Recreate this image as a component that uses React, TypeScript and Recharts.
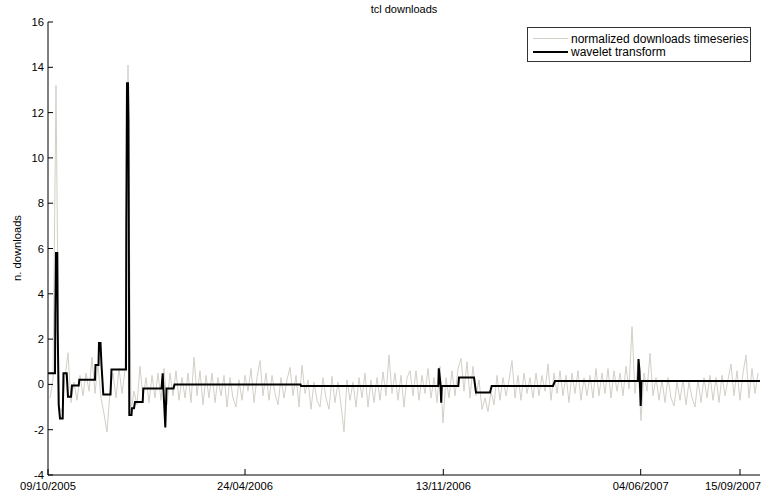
import React from 'react';
import { LineChart, Line, XAxis, YAxis } from 'recharts';

// x positions are in sample units (one unit per pixel-day of the original plot)
const xTickPositions = [0, 197, 395.3, 592.7, 692];
const xTickLabels = ['09/10/2005', '24/04/2006', '13/11/2006', '04/06/2007', '15/09/2007'];
const yTicks = [-4, -2, 0, 2, 4, 6, 8, 10, 12, 14, 16];

const seriesStart = 2;
const seriesStep = 3;
const normalizedValues = [
  -0.6, 0.2, 13.2, -1.0, -1.2, 0.3, 1.4, -0.8, 0.1, -0.7,
  0.4, -0.5, 0.5, -0.3, 1.2, -0.4, 0.9, -0.6, -1.3, -2.1,
  -0.3, 0.5, -0.6, 0.7, -0.4, 0.6, 14.1, -1.2, -0.3, -0.9,
  0.8, -0.6, 0.3, -0.8, 0.4, -0.6, 0.5, -0.7, 0.7, -0.9,
  0.5, -0.5, 0.6, -0.7, 0.3, -0.6, 0.5, -0.8, 1.2, -0.5,
  0.6, -0.9, 0.4, -0.6, 0.5, -0.8, 0.3, -0.5, 0.4, -1.0,
  0.3, -0.6, -1.0, 0.2, -0.7, 0.4, -0.3, 0.7, -0.8, 0.3,
  1.05, -0.5, 0.5, -0.7, 0.4, -0.4, -0.9, 0.3, -0.6, 0.2,
  0.75, -0.5, 0.4, -1.0, 0.85, -0.4, 0.2, -1.1, 0.1, -0.7,
  -1.0, 0.3, -0.6, -1.1, 0.35, -0.8, 0.1, -0.9, -2.1, 0.2,
  -0.7, 0.1, -1.0, 0.3, -0.6, 0.5, -1.0, 0.2, -0.8, 0.3,
  -0.7, 0.55, -0.5, 1.3, -0.4, 0.5, -0.7, 0.4, -1.0, 0.3,
  0.6,
  -0.5, 0.6, -0.7, 0.4, -0.4, 0.7, -0.6, 0.3, -0.8, 0.8,
  -1.7, 0.3, -0.6, 0.6, -0.5, 0.7, 1.15, -0.3, 1.0, -0.6,
  0.8, -0.5, 0.2, -1.1, -0.6, -1.2, -0.3, -0.9, 0.4, -0.7,
  0.3, -0.5, 0.2, 1.05, -0.6, 0.4, -0.7, 0.5, -0.4, 0.3,
  -0.6, 0.5, -0.5, 0.4, -0.3, 0.9, -0.7, 0.5, -0.4, 0.6,
  -0.5, 0.4, -0.8, 0.5, -0.4, 0.6, -0.7, 0.3, -0.5, 0.4,
  -0.6,
  0.7, -0.5, 0.5, -0.4, 0.7, -0.6, 0.6, -0.3, 0.5, -0.5,
  0.8, -0.2, 2.55, -0.4, 0.9, -1.6, 0.5, -0.3, 1.37, -0.5,
  0.3, -0.7, 0.2, -0.8, 0.3, -0.6, -0.95, 0.1, -0.7, 0.2,
  -0.9, 0.1, -0.6, -1.0, 0.2, -0.8, 0.3, -0.6, 0.4, -0.7,
  0.3, -0.8, 0.4, -0.5, 0.2, 0.9, -0.5, 0.6, -0.7, 0.5,
  1.3, -0.6, 0.7, -0.4, 0.5,
];

const waveletX = [
  0, 7, 7.3, 8, 9.3, 9.7, 10.7, 12, 14.7, 15.5,
  18.7, 20, 23, 24, 30.7, 31.3, 47, 47.5, 50.5, 51,
  52.5, 53.5, 55.3, 62.5, 63.5, 78, 78.3, 79, 80, 80.5,
  81.3, 83.5, 84, 86, 87, 94.7, 95.3, 113.5, 114.7, 117.3,
  118.5, 125.5, 126.5, 252.5, 253, 390.3, 390.8, 392.5, 393.2, 393.8,
  410.3, 411, 426, 428, 442, 443.7, 505, 507, 590, 590.5,
  591.5, 592.7, 593.5, 712,
];
const waveletY = [
  0.49, 0.49, 3.0, 5.8, 5.8, 2.4, -0.9, -1.5, -1.5, 0.49,
  0.49, -0.55, -0.55, -0.05, -0.05, 0.2, 0.2, 0.86, 0.86, 1.83,
  1.83, 0.86, -0.45, -0.45, 0.66, 0.66, 6.96, 13.3, 13.3, 11.67,
  -1.35, -1.35, -1.05, -1.05, -0.78, -0.78, -0.18, -0.18, 0.49, -1.9,
  -0.18, -0.18, 0, 0, -0.07, -0.07, 0.71, 0.0, -0.81, -0.07,
  -0.07, 0.31, 0.31, -0.36, -0.36, -0.07, -0.07, 0.15, 0.15, 1.12,
  0.6, -0.95, 0.15, 0.15,
];

const normalizedData = normalizedValues.map((v, i) => ({ x: seriesStart + i * seriesStep, y: v }));
const waveletData = waveletX.map((x, i) => ({ x, y: waveletY[i] }));

const FONT = '"Liberation Sans", Arial, Helvetica, sans-serif';
const CHART_W = 767;
const TICK_FONT = 11.2;

const XTick = (props: any) => {
  const { x, y, payload } = props;
  const idx = xTickPositions.indexOf(payload.value);
  const label = idx >= 0 ? xTickLabels[idx] : '';
  const approxW = label.length * TICK_FONT * 0.5;
  const overflow = x + approxW / 2 > CHART_W - 6;
  return (
    <g>
      <line x1={x} y1={y} x2={x} y2={y - 6} stroke="#000" strokeWidth={1} />
      <text
        x={overflow ? CHART_W - 6 : x}
        y={y + 15}
        textAnchor={overflow ? 'end' : 'middle'}
        fontFamily={FONT}
        fontSize={TICK_FONT}
        fill="#000"
      >
        {label}
      </text>
    </g>
  );
};

const YTick = (props: any) => {
  const { x, y, payload } = props;
  return (
    <g>
      <line x1={x} y1={y} x2={x + 5} y2={y} stroke="#000" strokeWidth={1} />
      <text x={x - 4} y={y + 4} textAnchor="end" fontFamily={FONT} fontSize={TICK_FONT} fill="#000">
        {payload.value}
      </text>
    </g>
  );
};

export default function App() {
  return (
    <div style={{ position: 'absolute', left: 0, top: 0, width: 767, height: 495, background: '#fff' }}>
      <LineChart width={767} height={495} margin={{ top: 22, right: 7, bottom: 0, left: 0 }}>
        <XAxis
          dataKey="x"
          type="number"
          domain={[0, 712]}
          ticks={xTickPositions}
          interval={0}
          height={20}
          tickSize={0}
          tickMargin={0}
          tickLine={false}
          axisLine={{ stroke: '#000', strokeWidth: 1 }}
          tick={XTick}
          allowDataOverflow
        />
        <YAxis
          type="number"
          domain={[-4, 16]}
          ticks={yTicks}
          interval={0}
          width={48}
          tickSize={0}
          tickMargin={0}
          tickLine={false}
          axisLine={{ stroke: '#000', strokeWidth: 1 }}
          tick={YTick}
          allowDataOverflow
        />
        <Line
          data={normalizedData}
          dataKey="y"
          type="linear"
          stroke="#d3cfc8"
          strokeWidth={1}
          dot={false}
          isAnimationActive={false}
        />
        <Line
          data={waveletData}
          dataKey="y"
          type="linear"
          stroke="#000"
          strokeWidth={2}
          dot={false}
          isAnimationActive={false}
        />
      </LineChart>
      <svg
        width={767}
        height={495}
        style={{ position: 'absolute', left: 0, top: 0, pointerEvents: 'none' }}
      >
        <text x={404} y={13} textAnchor="middle" fontFamily={FONT} fontSize={11} fill="#000">
          tcl downloads
        </text>
        <text
          x={0}
          y={0}
          transform="translate(21 248) rotate(-90)"
          textAnchor="middle"
          fontFamily={FONT}
          fontSize={11.2}
          fill="#000"
        >
          n. downloads
        </text>
        <rect x={527.5} y={27.5} width={223} height={34} fill="#fff" stroke="#333" strokeWidth={1} />
        <line x1={533} y1={38.5} x2={568} y2={38.5} stroke="#d3cfc8" strokeWidth={1} />
        <text x={571} y={42.5} fontFamily={FONT} fontSize={12} fill="#000">
          normalized downloads timeseries
        </text>
        <line x1={533} y1={52} x2={568} y2={52} stroke="#000" strokeWidth={2} />
        <text x={571} y={56} fontFamily={FONT} fontSize={12} fill="#000">
          wavelet transform
        </text>
      </svg>
    </div>
  );
}
